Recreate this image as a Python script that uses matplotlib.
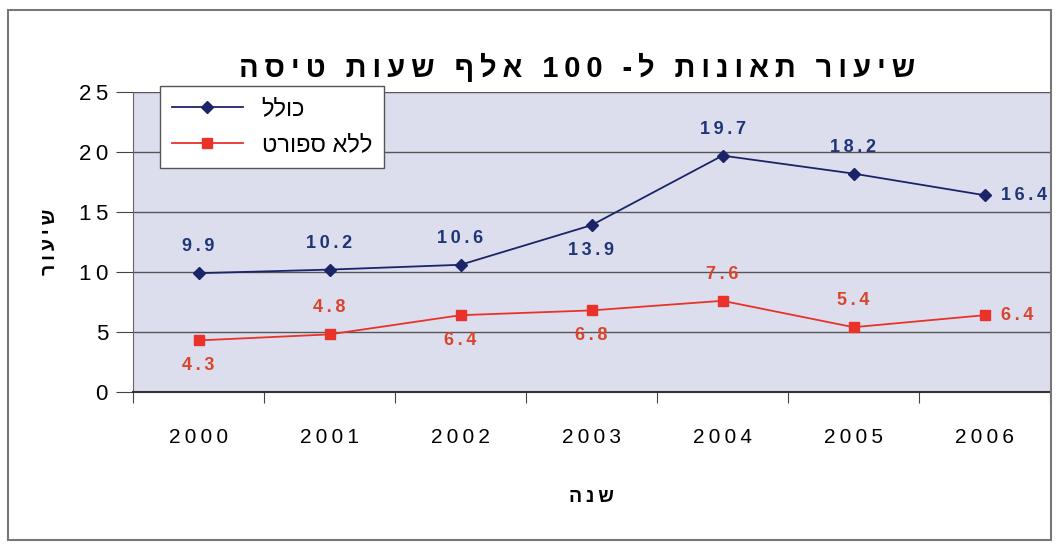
import matplotlib
matplotlib.use("Agg")
import matplotlib.pyplot as plt
from matplotlib.patches import Rectangle

years = ["2000", "2001", "2002", "2003", "2004", "2005", "2006"]
total = [9.9, 10.2, 10.6, 13.9, 19.7, 18.2, 16.4]
no_sport = [4.3, 4.8, 6.4, 6.8, 7.6, 5.4, 6.4]
total_pos = ["above", "above", "above", "below", "above", "above", "right"]
no_sport_pos = ["below", "above", "below", "below", "above", "above", "right"]

title = "שיעור תאונות ל- 100 אלף שעות טיסה"
series_names = ["כולל", "ללא ספורט"]
ylabel = "שיעור"
xlabel = "שנה"


def rtl(s):
    # matplotlib has no bidi support: flip word order and hebrew letters
    out = []
    for tok in s.split(" ")[::-1]:
        if any("\u0590" <= c <= "\u05ff" for c in tok):
            tok = tok[::-1]
        out.append(tok)
    return " ".join(out)


def spaced(s):
    return "\u2009".join(s)


plt.rcParams["font.family"] = ["Liberation Sans", "DejaVu Sans"]

fig = plt.figure(figsize=(10.59, 5.44), dpi=100)
ax = fig.add_axes([133 / 1059, 1 - 392 / 544, 917 / 1059, 300 / 544])

# scanned-page frame
fig.patches.append(Rectangle((8 / 1059, 4 / 544), 1043 / 1059, 530 / 544,
                             transform=fig.transFigure, fill=False,
                             edgecolor="#777777", linewidth=1.5))

ax.set_facecolor("#dcdeee")
x = list(range(len(years)))

blue = "#1c2468"
red = "#e8322a"
ax.plot(x, total, color=blue, marker="D", markersize=6, linewidth=1.3,
        label=rtl(series_names[0]), zorder=3)
ax.plot(x, no_sport, color=red, marker="s", markersize=7, linewidth=1.3,
        label=rtl(series_names[1]), zorder=3)

offsets = {"above": (0, 13, "center", "bottom"),
           "below": (0, -12, "center", "top"),
           "right": (12, 0, "left", "center")}
for vals, poss, col in [(total, total_pos, "#1f3577"),
                        (no_sport, no_sport_pos, "#d8452c")]:
    for i, (v, p) in enumerate(zip(vals, poss)):
        dx, dy, ha, va = offsets[p]
        ax.annotate(spaced(f"{v:.1f}"), xy=(i, v), xytext=(dx, dy),
                    textcoords="offset points", ha=ha, va=va,
                    color=col, fontsize=13, fontweight="bold")

ax.set_xlim(-0.5, len(years) - 0.5)
ax.set_ylim(0, 25)
ax.set_yticks([0, 5, 10, 15, 20, 25])
ax.set_yticklabels([spaced(str(v)) for v in [0, 5, 10, 15, 20, 25]], fontsize=16)
ax.set_xticks([i - 0.5 for i in range(len(years) + 1)])
ax.set_xticklabels([])
ax.set_xticks(x, minor=True)
ax.set_xticklabels([spaced(y) for y in years], minor=True, fontsize=15)
ax.tick_params(axis="x", which="major", direction="out", length=8, color="#444444")
ax.tick_params(axis="x", which="minor", length=0, pad=26)
ax.tick_params(axis="y", direction="out", length=12, color="#444444", pad=6)
ax.grid(True, axis="y", color="#555555", linewidth=1.0)
ax.set_axisbelow(True)
for side in ["top", "right"]:
    ax.spines[side].set_visible(False)
ax.spines["left"].set_color("#666666")
ax.spines["bottom"].set_color("#333333")
ax.spines["bottom"].set_linewidth(1.5)

fig.text(577 / 1059, 1 - 68 / 544, spaced(rtl(title)), ha="center", va="center",
         fontsize=21, fontweight="bold")
ax.set_ylabel(spaced(rtl(ylabel)), fontsize=14, fontweight="bold", labelpad=14)
ax.set_xlabel(spaced(rtl(xlabel)), fontsize=14, fontweight="bold", labelpad=30)

leg = ax.legend(loc="upper left", bbox_to_anchor=(27 / 917, 1.02),
                fontsize=17, frameon=True, fancybox=False, handlelength=3,
                borderpad=0.5, labelspacing=0.6, borderaxespad=0)
leg.get_frame().set_edgecolor("#555555")
leg.get_frame().set_facecolor("white")
leg.get_frame().set_alpha(1)

fig.savefig("out.png", dpi=100)
